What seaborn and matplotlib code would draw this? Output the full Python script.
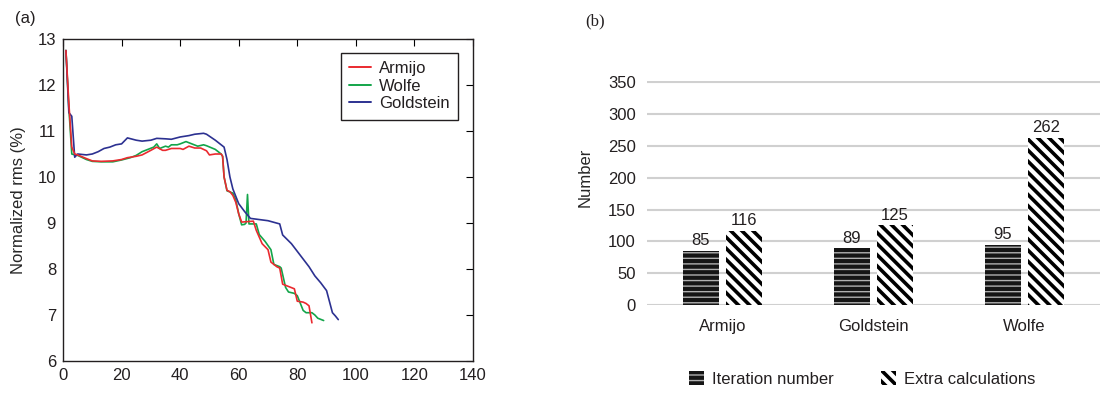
import numpy as np
import pandas as pd
import matplotlib
matplotlib.use("Agg")
import matplotlib.pyplot as plt
import seaborn as sns
from matplotlib.patches import Patch

# ---------------- data: panel (a) ----------------
armijo_x = [1, 2, 3, 4, 5, 8, 10, 13, 17, 20, 22, 25, 27, 30, 32, 34, 35, 37, 40, 41, 43, 45, 47, 49, 50,
            52, 54, 54.5, 55, 56, 57, 58, 59, 60, 61, 65, 66, 68, 70, 71, 73, 74, 75, 77, 79, 80, 82, 83, 84, 85]
armijo_y = [12.75, 11.6, 10.65, 10.5, 10.48, 10.4, 10.35, 10.34, 10.35, 10.38, 10.42, 10.45, 10.48, 10.58,
            10.65, 10.58, 10.58, 10.62, 10.62, 10.6, 10.67, 10.63, 10.63, 10.57, 10.48, 10.5, 10.5, 10.45,
            10.0, 9.71, 9.68, 9.6, 9.45, 9.2, 9.02, 9.04, 8.84, 8.55, 8.42, 8.15, 8.05, 8.02, 7.67, 7.62,
            7.57, 7.3, 7.28, 7.25, 7.2, 6.83]

wolfe_x = [1, 2, 3, 4, 5, 8, 10, 13, 17, 20, 23, 25, 27, 29, 31, 32, 33, 35, 36, 37, 39, 40, 42, 44, 46,
           48, 49, 52, 54, 54.5, 55, 56, 58, 59, 60, 61, 62, 62.5, 63, 63.5, 66, 67, 69, 71, 72, 74, 74.5,
           76, 77, 79, 80, 82, 83, 85, 86, 87, 89]
wolfe_y = [12.75, 11.5, 10.5, 10.48, 10.47, 10.38, 10.34, 10.33, 10.33, 10.37, 10.42, 10.47, 10.55, 10.6,
           10.65, 10.72, 10.62, 10.67, 10.65, 10.7, 10.7, 10.72, 10.77, 10.72, 10.67, 10.7, 10.68, 10.6,
           10.5, 10.45, 10.0, 9.7, 9.65, 9.5, 9.2, 8.96, 8.97, 9.0, 9.62, 8.98, 8.98, 8.75, 8.6, 8.42,
           8.1, 8.05, 8.02, 7.6, 7.5, 7.47, 7.42, 7.1, 7.05, 7.05, 7.0, 6.93, 6.88]

gold_x = [1, 2, 3, 4, 5, 8, 10, 12, 14, 16, 18, 20, 22, 25, 27, 30, 32, 35, 37, 40, 43, 45, 48, 49, 52,
          55, 56, 57, 58, 60, 62, 64, 70, 74, 75, 78, 81, 84, 86, 88, 90, 92, 93, 94]
gold_y = [12.75, 11.4, 11.32, 10.43, 10.5, 10.48, 10.5, 10.55, 10.62, 10.65, 10.7, 10.72, 10.85, 10.8,
          10.78, 10.8, 10.84, 10.83, 10.82, 10.87, 10.9, 10.93, 10.95, 10.93, 10.8, 10.65, 10.38, 10.0,
          9.74, 9.42, 9.25, 9.1, 9.05, 8.98, 8.74, 8.55, 8.3, 8.05, 7.85, 7.7, 7.53, 7.05, 6.98, 6.9]

line_methods = ["Armijo", "Wolfe", "Goldstein"]

# ---------------- data: panel (b) ----------------
bar_categories = ["Armijo", "Goldstein", "Wolfe"]
iteration_number = [85, 89, 95]
extra_calculations = [116, 125, 262]
bar_series = ["Iteration number", "Extra calculations"]
b_yticks = [0, 50, 100, 150, 200, 250, 300, 350]

# ---------------- style ----------------
sns.set_theme(style="white")
plt.rcParams["font.family"] = ["Liberation Sans", "DejaVu Sans"]
plt.rcParams["text.color"] = "#231f20"

fig = plt.figure(figsize=(11.01, 3.94), dpi=100)
W, H = 1101, 394

# ---------------- panel (a) ----------------
axA = fig.add_axes([63 / W, 1 - 361 / H, 410 / W, 322 / H])
df_line = pd.concat([
    pd.DataFrame({"iter": armijo_x, "rms": armijo_y, "method": "Armijo"}),
    pd.DataFrame({"iter": wolfe_x, "rms": wolfe_y, "method": "Wolfe"}),
    pd.DataFrame({"iter": gold_x, "rms": gold_y, "method": "Goldstein"}),
], ignore_index=True)
palette = {"Armijo": "#ea2a2f", "Wolfe": "#13a54a", "Goldstein": "#2c3191"}
sns.lineplot(data=df_line, x="iter", y="rms", hue="method", hue_order=line_methods,
             palette=palette, linewidth=1.2, ax=axA, sort=False, estimator=None)
for ln, z in zip(axA.lines[:3], [4, 2, 3]):
    ln.set_zorder(z)
axA.set_xlim(0, 140)
axA.set_ylim(6, 13)
axA.set_xticks(range(0, 141, 20))
axA.set_yticks(range(6, 14))
axA.set_xlabel("")
axA.set_ylabel("Normalized rms (%)", fontsize=12, labelpad=8)
axA.tick_params(direction="in", length=5, width=0.8, top=True, right=True,
                labelsize=12, colors="#231f20", pad=5)
axA.tick_params(axis="both", which="both", color="black")
for s in axA.spines.values():
    s.set_color("#231f20")
    s.set_linewidth(1.0)
leg = axA.legend(loc="upper right", bbox_to_anchor=(0.963, 0.957), fontsize=12,
                 frameon=True, fancybox=False, framealpha=1, edgecolor="#231f20",
                 handlelength=1.3, handletextpad=0.5, labelspacing=0.15,
                 borderpad=0.5, borderaxespad=0)
leg.get_frame().set_linewidth(1.0)
for h in leg.get_lines():
    h.set_linewidth(1.4)
fig.text(15 / W, 1 - 19 / H, "(a)", fontsize=12, va="center", ha="left")

# ---------------- panel (b) ----------------
axB = fig.add_axes([647 / W, 1 - 305 / H, 453 / W, 224 / H])
df_bar = pd.DataFrame({
    "method": bar_categories * 2,
    "value": iteration_number + extra_calculations,
    "series": [bar_series[0]] * 3 + [bar_series[1]] * 3,
})
sns.barplot(data=df_bar, x="method", y="value", hue="series", hue_order=bar_series,
            order=bar_categories, width=0.57, gap=0.18, ax=axB, legend=False,
            palette=["#1a1a1a", "white"], linewidth=0, saturation=1)

iter_style = dict(facecolor="#151515", edgecolor="#b0b0b0", hatch="---", hlw=1.0)
extra_style = dict(facecolor="white", edgecolor="black", hatch="\\\\\\", hlw=2.6)
for i, bar in enumerate(axB.patches[:6]):
    st = iter_style if i < 3 else extra_style
    bar.set_facecolor(st["facecolor"])
    bar.set_edgecolor(st["edgecolor"])
    bar.set_hatch(st["hatch"])
    bar.set_linewidth(0)
    if hasattr(bar, "set_hatch_linewidth"):
        bar.set_hatch_linewidth(st["hlw"])
    axB.annotate(f"{int(bar.get_height())}",
                 (bar.get_x() + bar.get_width() / 2, bar.get_height()),
                 xytext=(0, 2), textcoords="offset points", ha="center", va="bottom",
                 fontsize=12, color="#231f20")

axB.set_ylim(0, 352)
axB.set_yticks(b_yticks)
axB.set_xlim(-0.5, 2.5)
axB.grid(axis="y", color="#d0d0d0", linewidth=1.5)
axB.set_axisbelow(True)
for s in axB.spines.values():
    s.set_visible(False)
axB.tick_params(axis="both", length=0, labelsize=12, colors="#231f20")
axB.tick_params(axis="x", pad=10)
axB.tick_params(axis="y", pad=8)
axB.set_xlabel("")
axB.set_ylabel("Number", fontsize=12)
axB.yaxis.set_label_coords(-0.12, 0.57)
fig.text(585 / W, 1 - 21 / H, "(b)", fontsize=12, va="center", ha="left",
         family=["Liberation Serif", "DejaVu Serif"])

handles = [
    Patch(facecolor="#151515", edgecolor="#b0b0b0", hatch="---", linewidth=0, label=bar_series[0]),
    Patch(facecolor="white", edgecolor="black", hatch="\\\\\\", linewidth=0, label=bar_series[1]),
]
legB = fig.legend(handles=handles, loc="center", bbox_to_anchor=(862 / W, 1 - 379 / H), ncol=2,
                  frameon=False, fontsize=12, handlelength=0.9, handleheight=0.9,
                  handletextpad=0.5, columnspacing=2.8)
for h, st in zip(legB.get_patches(), [iter_style, extra_style]):
    if hasattr(h, "set_hatch_linewidth"):
        h.set_hatch_linewidth(st["hlw"])

fig.savefig("out.png", dpi=100)
